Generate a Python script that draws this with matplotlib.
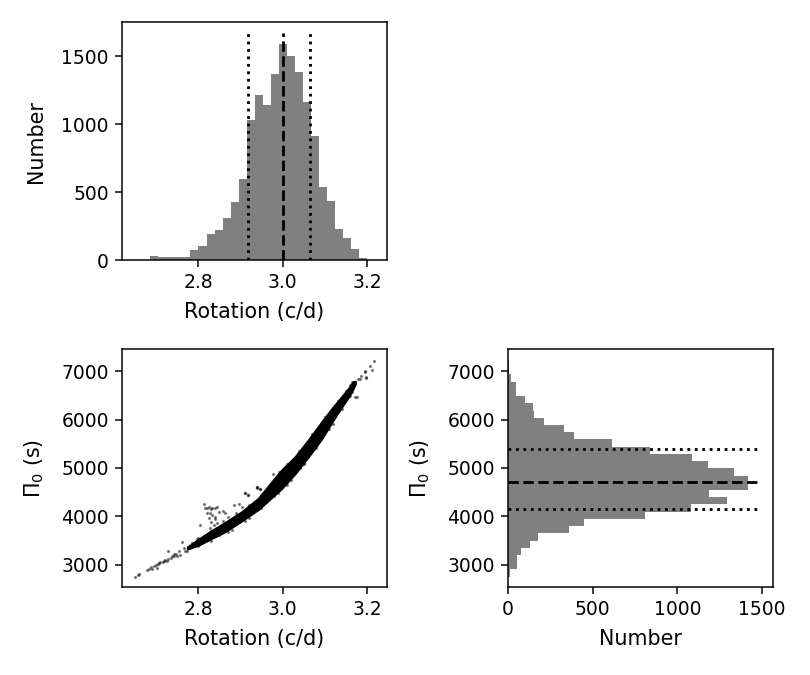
#!/usr/bin/python
# Corner plot of the rotation and Pi_0 posterior samples
import numpy as np
import matplotlib
matplotlib.use('Agg')
import matplotlib.pyplot as plt

# rotation histogram (c/d)
rot_edges = np.linspace(2.649, 3.219, 31)
rot_counts = [2, 2, 30, 25, 25, 25, 25, 78, 106, 195, 225, 312, 428, 598, 1034,
              1217, 1138, 1367, 1589, 1500, 1384, 1167, 916, 539, 436, 229, 163, 81, 15, 3]
rot_median = 3.000
rot_low = 2.919
rot_high = 3.066

# Pi_0 histogram (s)
pi_edges = np.linspace(2755, 7230, 31)
pi_counts = [12, 55, 55, 79, 132, 179, 361, 451, 812, 1083, 1296, 1189, 1420, 1420, 1333,
             1183, 1089, 836, 615, 392, 333, 215, 156, 150, 100, 47, 47, 18, 5, 3]
pi_median = 4717
pi_low = 4148
pi_high = 5385

# dense part of the rotation / Pi_0 cloud: lower and upper edge
band_rot = [2.775, 2.800, 2.825, 2.864, 2.904, 2.943, 2.970, 2.998, 3.030, 3.061,
            3.093, 3.117, 3.140, 3.156, 3.167, 3.172]
band_lo = [3330, 3405, 3515, 3687, 3914, 4148, 4360, 4581, 4890, 5234,
           5612, 5955, 6265, 6471, 6643, 6740]
band_hi = [3370, 3520, 3667, 3873, 4099, 4374, 4665, 4959, 5234, 5577,
           5955, 6230, 6471, 6643, 6780, 6790]

# single samples outside the dense part
pts_rot = [2.650, 2.657, 2.661, 2.679, 2.685, 2.689, 2.691, 2.695, 2.700, 2.704,
           2.705, 2.707, 2.711, 2.716, 2.719, 2.721, 2.726, 2.730, 2.730, 2.735,
           2.738, 2.742, 2.744, 2.748, 2.750, 2.754, 2.758, 2.762, 2.766, 2.768,
           2.774, 2.778, 2.782, 2.785, 2.793, 2.797, 2.803,
           2.813, 2.817, 2.821, 2.826, 2.831, 2.834, 2.841, 2.846, 2.821, 2.829,
           2.834, 2.839, 2.825, 2.831, 2.841, 2.845, 2.805, 2.837, 2.849, 2.858,
           2.864, 2.872, 2.884, 2.896, 2.904, 2.912, 2.919, 2.939, 2.947, 2.931,
           2.829, 2.841,
           2.939, 2.947, 2.978, 2.992, 3.036, 3.085, 3.105, 3.131, 3.142, 3.148,
           3.164, 3.172, 3.175, 3.160, 3.165, 3.172, 3.179, 3.186, 3.195, 3.207,
           3.198, 3.211, 3.217, 3.196, 3.197, 3.168, 3.183, 3.041, 2.911, 2.919,
           2.939, 2.960, 3.010, 3.050, 3.080, 3.120, 2.880, 2.850, 2.920, 2.990,
           2.800, 2.830, 2.860, 2.890, 2.920, 2.950, 2.980, 3.010, 3.040, 3.070,
           3.100, 3.130, 3.150, 2.800, 2.830, 2.870, 2.910, 2.950, 2.980, 3.020,
           3.050, 3.080, 3.110, 3.140, 3.160]
pts_pi = [2758, 2787, 2800, 2883, 2910, 2945, 2910, 2975, 3000, 2931,
          3010, 3034, 3048, 3068, 3080, 3103, 3082, 3117, 3275, 3150,
          3172, 3227, 3180, 3227, 3172, 3275, 3206, 3467, 3343, 3275,
          3275, 3343, 3378, 3460, 3433, 3529, 3481,
          4258, 4168, 4168, 4189, 4148, 4168, 4182, 4203, 4065, 4065,
          4031, 3983, 3962, 3893, 3941, 3873, 3824, 3824, 4100, 4120,
          4065, 3996, 4237, 4258, 4203, 4478, 4443, 4615, 4560, 4134,
          3756, 3721,
          4615, 4560, 4876, 4924, 5289, 5783, 6024, 6299, 6368, 6436,
          6574, 6457, 6471, 6711, 6780, 6759, 6828, 6897, 6986, 7103,
          6883, 7021, 7220, 7000, 6869, 6780, 6828, 4993, 4478, 4443,
          4594, 4300, 4640, 5100, 5450, 5900, 3720, 3620, 3960, 4480,
          3545, 3700, 3900, 4060, 4230, 4450, 4760, 5080, 5350, 5700,
          6060, 6380, 6590, 3380, 3490, 3680, 3910, 4180, 4420, 4760,
          5080, 5420, 5800, 6210, 6480]

rot_lim = (2.620, 3.247)
pi_lim = (2535, 7454)

fig, axes = plt.subplots(2, 2, figsize=(6, 5), dpi=135)
plt.subplots_adjust(left=0.1506, right=0.9543, bottom=0.1299, top=0.9674,
                    wspace=0.457, hspace=0.374)
lab = dict(fontsize=11)

# top left: rotation histogram
ax = axes[0, 0]
rot_centers = 0.5 * (rot_edges[1:] + rot_edges[:-1])
ax.hist(rot_centers, bins=rot_edges, weights=rot_counts, color='gray')
top = 1.05 * max(rot_counts)
ax.vlines(rot_median, 0, top, colors='k', linestyles='--', linewidth=1.5)
ax.vlines([rot_low, rot_high], 0, top, colors='k', linestyles=':', linewidth=1.5)
ax.set_xlim(rot_lim)
ax.set_xticks([2.8, 3.0, 3.2])
ax.set_yticks([0, 500, 1000, 1500])
ax.set_xlabel('Rotation (c/d)', labelpad=5, **lab)
ax.set_ylabel('Number', labelpad=8, **lab)

# top right is empty
axes[0, 1].axis('off')

# bottom left: Pi_0 vs rotation
ax = axes[1, 0]
ax.fill_between(band_rot, band_lo, band_hi, color='k', linewidth=1.2, edgecolor='k')
ax.scatter(pts_rot, pts_pi, s=0.8, c='k', alpha=0.4, linewidths=0.9)
ax.set_xlim(rot_lim)
ax.set_ylim(pi_lim)
ax.set_xticks([2.8, 3.0, 3.2])
ax.set_yticks([3000, 4000, 5000, 6000, 7000])
ax.set_xlabel('Rotation (c/d)', labelpad=5, **lab)
ax.set_ylabel(r'$\Pi_0$ (s)', labelpad=8, **lab)

# bottom right: Pi_0 histogram
ax = axes[1, 1]
pi_centers = 0.5 * (pi_edges[1:] + pi_edges[:-1])
ax.hist(pi_centers, bins=pi_edges, weights=pi_counts, color='gray',
        orientation='horizontal')
right = 1.05 * max(pi_counts)
ax.hlines(pi_median, 0, right, colors='k', linestyles='--', linewidth=1.5)
ax.hlines([pi_low, pi_high], 0, right, colors='k', linestyles=':', linewidth=1.5)
ax.set_ylim(pi_lim)
ax.set_xlim(0, 1.05 * right)
ax.set_xticks([0, 500, 1000, 1500])
ax.set_yticks([3000, 4000, 5000, 6000, 7000])
ax.set_xlabel('Number', labelpad=5, **lab)
ax.set_ylabel(r'$\Pi_0$ (s)', labelpad=8, **lab)

plt.savefig('out.png', dpi=135)
